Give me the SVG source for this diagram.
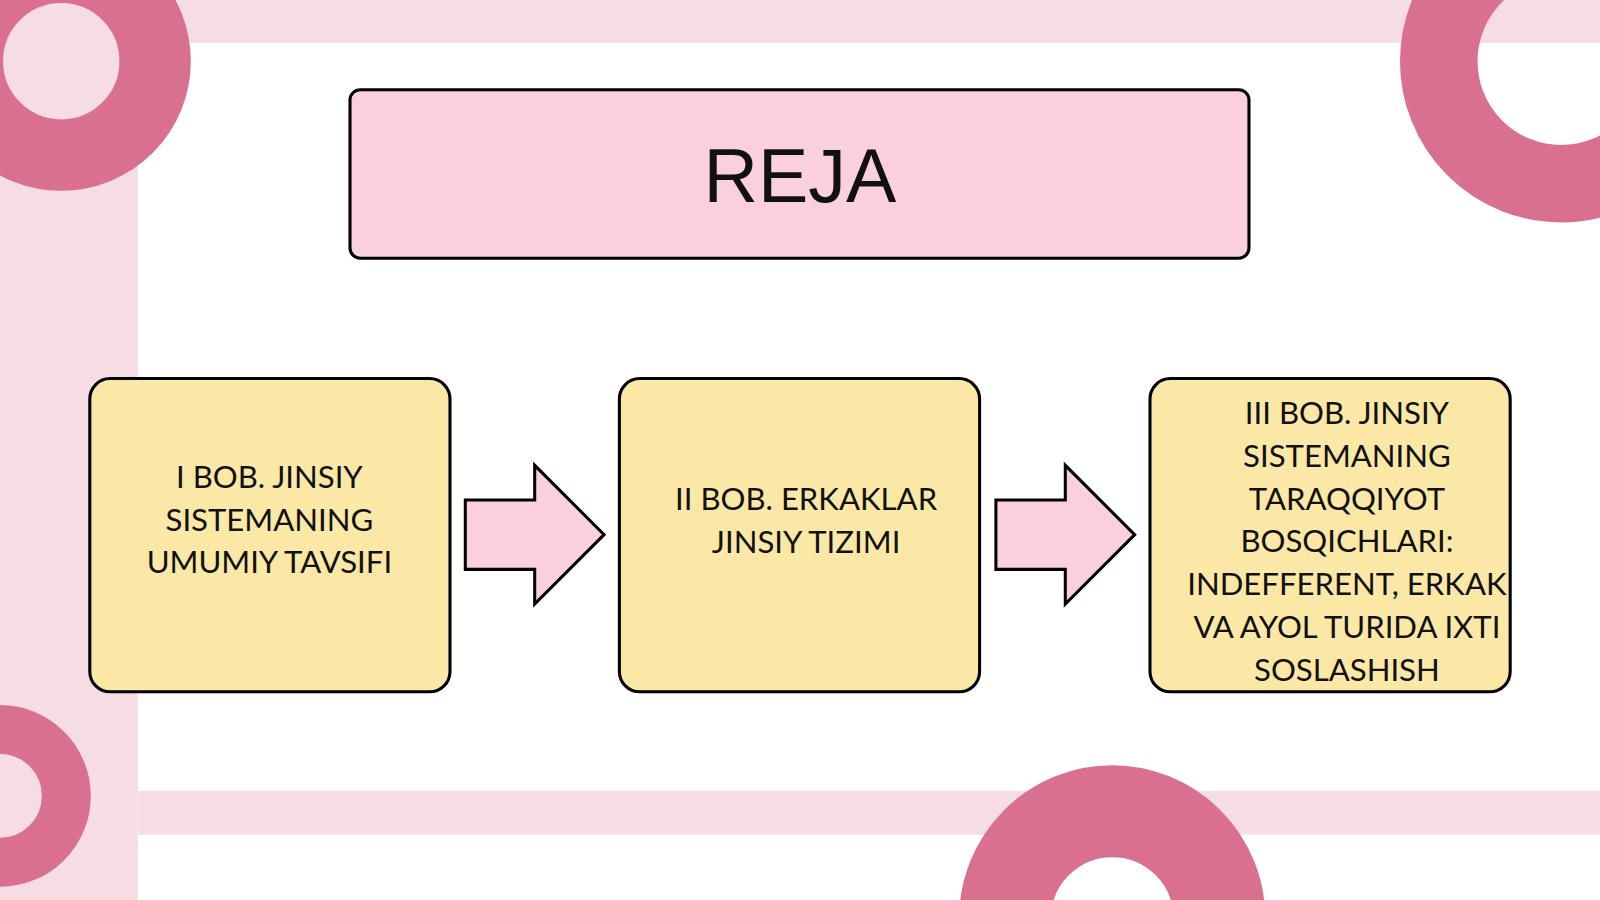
<svg xmlns="http://www.w3.org/2000/svg" width="1600" height="900" viewBox="0 0 1600 900">
<style>
.band{fill:#f6dde3}
.ring{fill:none;stroke:#d9708f}
.box{fill:#fbe8a6;stroke:#000;stroke-width:3}
.bt{font-family:Lato,"Liberation Sans",sans-serif;font-size:30.5px;fill:#111;text-anchor:middle}
.arr{fill:#f9d0dc;stroke:#000;stroke-width:3;stroke-linejoin:miter}
</style>
<rect width="1600" height="900" fill="#fff"/>
<g transform="scale(1.0204)">
<rect class="band" x="0" y="0" width="1568" height="42"/>
<rect class="band" x="0" y="0" width="135" height="882"/>
<rect class="band" x="135" y="775" width="1433" height="43"/>
<circle class="ring" cx="60" cy="60" r="92" stroke-width="70"/>
<circle class="ring" cx="1530" cy="60" r="120" stroke-width="76"/>
<circle class="ring" cx="0" cy="780" r="65" stroke-width="48"/>
<circle class="ring" cx="1090" cy="900" r="105" stroke-width="90"/>
<g id="title">
<rect x="343" y="88" width="881" height="165" rx="10" fill="#f9d0dc" stroke="#000" stroke-width="3"/>
<text x="784" y="198" font-family="'Liberation Sans',Arial,sans-serif" font-size="74" text-anchor="middle" fill="#111">REJA</text>
</g>
<g id="node1">
<rect class="box" x="88" y="371" width="353" height="307" rx="20"/>
<text class="bt"><tspan x="264" y="478">I BOB. JINSIY</tspan><tspan x="264" y="520">SISTEMANING</tspan><tspan x="264" y="562">UMUMIY TAVSIFI</tspan></text>
</g>
<g id="node2">
<rect class="box" x="607" y="371" width="353" height="307" rx="20"/>
<text class="bt"><tspan x="790" y="500">II BOB. ERKAKLAR</tspan><tspan x="790" y="542">JINSIY TIZIMI</tspan></text>
</g>
<g id="node3">
<rect class="box" x="1127" y="371" width="353" height="307" rx="20"/>
<text class="bt"><tspan x="1320" y="416">III BOB. JINSIY</tspan><tspan x="1320" y="458">SISTEMANING</tspan><tspan x="1320" y="500">TARAQQIYOT</tspan><tspan x="1320" y="541">BOSQICHLARI:</tspan><tspan x="1320" y="583">INDEFFERENT, ERKAK</tspan><tspan x="1320" y="625">VA AYOL TURIDA IXTI</tspan><tspan x="1320" y="667">SOSLASHISH</tspan></text>
</g>
<g id="connectors">
<path class="arr" d="M456 490H524V456L592 524L524 592V558H456Z"/>
<path class="arr" d="M976 490H1044V456L1112 524L1044 592V558H976Z"/>
</g>
</g>
</svg>
